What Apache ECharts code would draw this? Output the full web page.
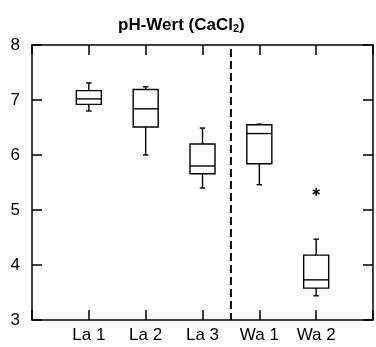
<!DOCTYPE html>
<html>
<head>
<meta charset="utf-8">
<script src="https://cdn.jsdelivr.net/npm/echarts@6/dist/echarts.min.js"></script>
<style>html,body{margin:0;padding:0;background:#fff;}#c{width:376px;height:347px;}</style>
</head>
<body>
<div id="c"></div>
<script>
// Data
var categories = ['La 1', 'La 2', 'La 3', 'Wa 1', 'Wa 2'];
var positions = [1, 2, 3, 4, 5];
var whiskerLow = [6.80, 6.00, 5.40, 5.46, 3.44];
var q1 = [6.92, 6.51, 5.66, 5.84, 3.58];
var median = [7.02, 6.84, 5.80, 6.39, 3.73];
var q3 = [7.17, 7.19, 6.20, 6.55, 4.18];
var whiskerHigh = [7.31, 7.24, 6.49, 6.56, 4.47];
var outlierX = [5];
var outlierY = [5.33];
var separatorX = [3.5, 3.5];
var separatorY = [8, 3];
var yTicks = [3, 4, 5, 6, 7, 8];

var FONT = '"Liberation Sans", Arial, sans-serif';
var boxData = positions.map(function (p, i) {
  return [p, whiskerLow[i], q1[i], median[i], q3[i], whiskerHigh[i]];
});

var chart = echarts.init(document.getElementById('c'));
var axisLine = { show: true, onZero: false, lineStyle: { color: '#000', width: 1.5 } };
var axisTick = { show: true, inside: true, length: 10, lineStyle: { color: '#000', width: 1.5 } };

chart.setOption({
  animation: false,
  backgroundColor: '#fff',
  title: {
    text: '{a|pH-Wert (CaCl}{s|2}{a|)}',
    left: 113,
    top: 12,
    textStyle: {
      rich: {
        a: { fontSize: 17, fontWeight: 'bold', fontFamily: FONT, color: '#000' },
        s: { fontSize: 11, fontWeight: 'bold', fontFamily: FONT, color: '#000', verticalAlign: 'bottom' }
      }
    }
  },
  grid: { left: 32, right: 1, top: 45, bottom: 27 },
  xAxis: [
    {
      type: 'value', min: 0, max: 6, interval: 1, position: 'bottom',
      axisLine: axisLine, axisTick: axisTick, splitLine: { show: false },
      axisLabel: {
        margin: 7, fontSize: 17, fontFamily: FONT, color: '#000',
        formatter: function (v) { var i = positions.indexOf(v); return i >= 0 ? categories[i] : ''; }
      }
    },
    {
      type: 'value', min: 0, max: 6, interval: 1, position: 'top',
      axisLine: axisLine, axisTick: axisTick, splitLine: { show: false },
      axisLabel: { show: false }
    }
  ],
  yAxis: [
    {
      type: 'value', min: yTicks[0], max: yTicks[yTicks.length - 1], interval: 1, position: 'left',
      axisLine: axisLine, axisTick: axisTick, splitLine: { show: false },
      axisLabel: { margin: 12, fontSize: 17, fontFamily: FONT, color: '#000' }
    },
    {
      type: 'value', min: yTicks[0], max: yTicks[yTicks.length - 1], interval: 1, position: 'right',
      axisLine: axisLine, axisTick: axisTick, splitLine: { show: false },
      axisLabel: { show: false }
    }
  ],
  series: [
    {
      type: 'line',
      xAxisIndex: 0, yAxisIndex: 0,
      data: separatorX.map(function (x, i) { return [x, separatorY[i]]; }),
      symbol: 'none',
      lineStyle: { color: '#000', width: 2, type: [8, 4], dashOffset: 8 },
      silent: true
    },
    {
      type: 'custom',
      xAxisIndex: 0, yAxisIndex: 0,
      data: boxData,
      renderItem: function (params, api) {
        var x = api.value(0);
        var lo = api.coord([x, api.value(1)]);
        var b = api.coord([x, api.value(2)]);
        var m = api.coord([x, api.value(3)]);
        var t = api.coord([x, api.value(4)]);
        var hi = api.coord([x, api.value(5)]);
        var unit = api.size([1, 0])[0];
        var hw = unit * 0.22;
        var cw = unit * 0.048;
        var cx = lo[0];
        var st = { stroke: '#000', lineWidth: 1.4, fill: null };
        return {
          type: 'group',
          children: [
            { type: 'rect', shape: { x: cx - hw, y: t[1], width: hw * 2, height: b[1] - t[1] }, style: { stroke: '#000', lineWidth: 1.4, fill: '#fff' } },
            { type: 'line', shape: { x1: cx - hw, y1: m[1], x2: cx + hw, y2: m[1] }, style: st },
            { type: 'line', shape: { x1: cx, y1: t[1], x2: cx, y2: hi[1] }, style: st },
            { type: 'line', shape: { x1: cx, y1: b[1], x2: cx, y2: lo[1] }, style: st },
            { type: 'line', shape: { x1: cx - cw, y1: hi[1], x2: cx + cw, y2: hi[1] }, style: st },
            { type: 'line', shape: { x1: cx - cw, y1: lo[1], x2: cx + cw, y2: lo[1] }, style: st }
          ]
        };
      }
    },
    {
      type: 'custom',
      xAxisIndex: 0, yAxisIndex: 0,
      data: outlierX.map(function (x, i) { return [x, outlierY[i]]; }),
      renderItem: function (params, api) {
        var p = api.coord([api.value(0), api.value(1)]);
        var r = 4;
        var st = { stroke: '#000', lineWidth: 1.6, fill: null };
        return {
          type: 'group',
          children: [
            { type: 'line', shape: { x1: p[0], y1: p[1] - r, x2: p[0], y2: p[1] + r }, style: st },
            { type: 'line', shape: { x1: p[0] - r * 0.87, y1: p[1] - r * 0.5, x2: p[0] + r * 0.87, y2: p[1] + r * 0.5 }, style: st },
            { type: 'line', shape: { x1: p[0] - r * 0.87, y1: p[1] + r * 0.5, x2: p[0] + r * 0.87, y2: p[1] - r * 0.5 }, style: st }
          ]
        };
      }
    }
  ]
});
</script>
</body>
</html>
